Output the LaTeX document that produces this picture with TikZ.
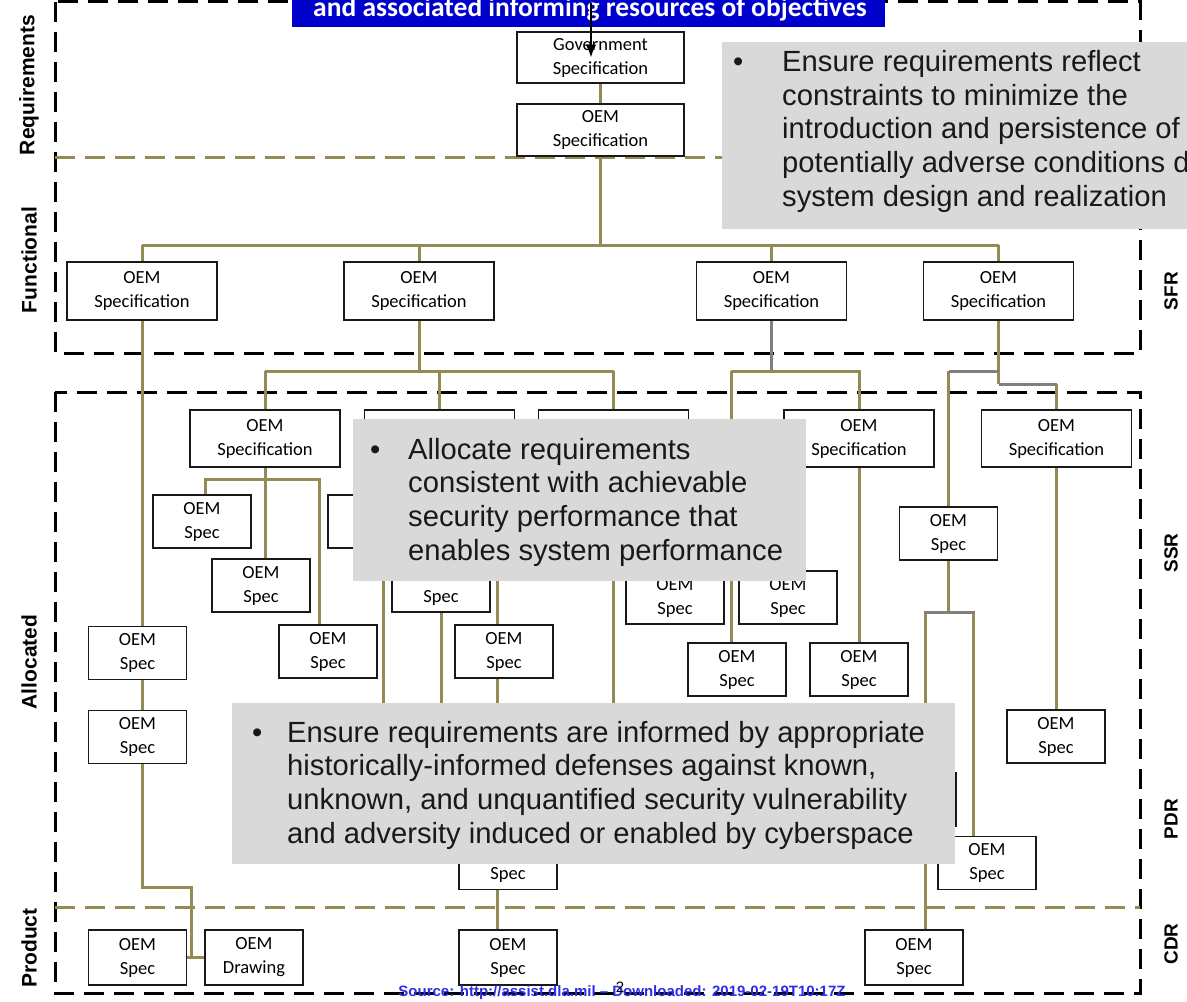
\documentclass[tikz,border=0pt]{standalone}
\usepackage{fontspec}
\setmainfont{Liberation Sans}
\newfontfamily\calfont{Carlito}
\usetikzlibrary{arrows.meta}
\definecolor{linkolive}{RGB}{148,138,84}
\definecolor{linkgrey}{RGB}{128,128,128}
\definecolor{notegrey}{RGB}{217,217,217}
\definecolor{bannerblue}{RGB}{0,0,204}
\definecolor{srcblue}{RGB}{45,45,235}
\begin{document}
\begin{tikzpicture}[x=1pt,y=-1pt,
  specbox/.style={draw=black!90, line width=1.6pt, fill=white, inner sep=0pt, align=center,
    font=\calfont\fontsize{18.5}{24}\selectfont, text=black},
  bigbox/.style={specbox, minimum width=150, minimum height=57},
  smallbox/.style={specbox, minimum width=98, minimum height=53},
  link/.style={linkolive, line width=3pt},
  glink/.style={linkgrey, line width=3pt},
  zoneframe/.style={black, line width=3pt, dash pattern=on 20pt off 10pt},
  levelline/.style={linkolive, line width=3pt, dash pattern=on 20pt off 10pt},
  note/.style={fill=notegrey, inner sep=0pt, anchor=north west},
  notetext/.style={inner sep=0pt, anchor=base west, font=\fontsize{29.2}{33.7}\selectfont, text=black!90},
  sidelabel/.style={rotate=90, inner sep=0pt, font=\bfseries\fontsize{21}{21}\selectfont},
  gatelabel/.style={rotate=90, inner sep=0pt, font=\bfseries\fontsize{19}{19}\selectfont}
]
\clip (0,0) rectangle (1187,1002);
\fill[white] (0,0) rectangle (1187,1002);

% zone frames and level boundaries
\draw[zoneframe] (55,1.5) rectangle (1140,353);
\draw[zoneframe] (55,392) rectangle (1140,993);
\draw[levelline] (55,157) -- (1140,157);
\draw[levelline] (55,907) -- (1140,907);

% requirements level
\node[specbox, minimum width=167, minimum height=51] (gov) at (600.5,57.5) {Government\\Specification};
\node[specbox, minimum width=167, minimum height=52] (req) at (600.5,130) {OEM\\Specification};

% functional level
\node[bigbox, minimum height=58] (f1) at (142,291) {OEM\\Specification};
\node[bigbox, minimum height=58] (f2) at (419,291) {OEM\\Specification};
\node[bigbox, minimum height=58] (f3) at (771.5,291) {OEM\\Specification};
\node[bigbox, minimum height=58] (f4) at (998.5,291) {OEM\\Specification};

% allocated level
\node[bigbox] (a1) at (265,438.5) {OEM\\Specification};
\node[bigbox] (a2) at (439.5,438.5) {OEM\\Specification};
\node[bigbox] (a3) at (613.5,438.5) {OEM\\Specification};
\node[bigbox] (a5) at (859,438.5) {OEM\\Specification};
\node[bigbox] (a6) at (1056.5,438.5) {OEM\\Specification};

\node[smallbox] (s6) at (202,521.5) {OEM\\Spec};
\node[smallbox] (s7) at (261,585.5) {OEM\\Spec};
\node[smallbox] (s8) at (328,651.5) {OEM\\Spec};
\node[smallbox] (s9) at (377,521.5) {OEM\\Spec};
\node[smallbox] (s10) at (441,585.5) {OEM\\Spec};
\node[smallbox] (s11) at (504,651.5) {OEM\\Spec};
\node[smallbox] (s12) at (675,597.5) {OEM\\Spec};
\node[smallbox] (s13) at (788,597.5) {OEM\\Spec};
\node[smallbox] (s14) at (737,669.5) {OEM\\Spec};
\node[smallbox] (s15) at (859,669.5) {OEM\\Spec};
\node[smallbox] (s16) at (948.5,533.5) {OEM\\Spec};
\node[smallbox] (s17) at (1056,736.5) {OEM\\Spec};
\node[smallbox] (s18) at (137.5,653) {OEM\\Spec};
\node[smallbox] (s19) at (137.5,737) {OEM\\Spec};
\node[smallbox] (s20) at (987,863) {OEM\\Spec};
\node[smallbox] (s21) at (907,799.5) {OEM\\Spec};
\node[smallbox] (s22) at (508,863) {OEM\\Spec};

% product level
\node[smallbox, minimum height=55] (p1) at (137.5,957.5) {OEM\\Spec};
\node[smallbox, minimum height=55] (p2) at (254,957.5) {OEM\\Drawing};
\node[smallbox, minimum height=55] (p3) at (508,957.5) {OEM\\Spec};
\node[smallbox, minimum height=55] (p4) at (914,957.5) {OEM\\Spec};

% bus heights and branch points
\coordinate (busF) at (0,245);
\coordinate (busA) at (0,371);
\coordinate (busR) at (0,384);
\coordinate (split) at (0,612);
\coordinate (jog) at (191,887);
\coordinate (f3left) at (731,371);
\coordinate (a1L) at (205,479);
\coordinate (a1R) at (319,479);
\coordinate (a2tap) at (383,479);
\coordinate (c497) at (497,560);
\coordinate (splitL) at (925,612);
\coordinate (splitR) at (973,612);

% requirements -> functional
\draw[link] (gov.south) -- (req.north);
\draw[link] (req.south) -- (req.south |- busF);
\draw[link] (f1.north |- busF) -- (f4.north |- busF);
\foreach \n in {f1,f2,f3,f4} \draw[link] (\n.north |- busF) -- (\n.north);

% left branch down to the product
\draw[link] (f1.south) -- (f1.south |- s18.north);
\draw[link] (f1.south |- s18.south) -- (f1.south |- s19.north);
\draw[link] (f1.south |- s19.south) |- (jog) -- (jog |- p1.east);
\draw[link] (p1.east) -- (p2.west);

% second functional branch
\draw[link] (f2.south) -- (f2.south |- busA);
\draw[link] (a1.north |- busA) -- (a3.north |- busA);
\foreach \n in {a1,a2,a3} \draw[link] (\n.north |- busA) -- (\n.north);
\draw[link] (a1.south) -- (a1.south |- s7.north);
\draw[link] (a1L |- s6.north) -- (a1L) -- (a1R) -- (a1R |- s8.north);
\draw[link] (a2tap) -- ++(0,280);
\draw[link] (s10.south) -- ++(0,150);
\draw[link] (c497) -- (c497 |- s11.north);
\draw[link] (c497 |- s11.south) -- (c497 |- s22.north);
\draw[link] (c497 |- s22.south) -- (c497 |- p3.north);
\draw[link] (a3.south) -- ++(0,300);

% third functional branch
\draw[glink] (f3.south) -- (f3.south |- busA);
\draw[link] (f3left) -- (a5.north |- busA) -- (a5.north);
\draw[link] (f3left) -- (f3left |- s14.north);
\draw[link] (a5.south) -- (a5.south |- s15.north);

% fourth functional branch
\draw[link] (f4.south) -- (f4.south |- busR);
\draw[link] (s16.north |- busA) -- (s16.north);
\draw[glink] (f4.south |- busA) -- (s16.north |- busA);
\draw[link] (a6.north |- busR) -- (a6.north);
\draw[glink] (f4.south |- busR) -- (a6.north |- busR);
\draw[link] (a6.south) -- (a6.south |- s17.north);
\draw[link] (s16.south) -- (s16.south |- split);
\draw[link] (splitL) -- (splitL |- p4.north);
\draw[link] (splitR) -- (splitR |- s20.north);
\draw[glink] ([xshift=-1.5pt]splitL) -- ([xshift=1.5pt]splitR);

% heading banner
\node[fill=bannerblue, minimum width=593, minimum height=70, anchor=south west, inner sep=0pt] (banner) at (292,27) {};
\node[anchor=base, inner sep=0pt, text=white, font=\calfont\bfseries\fontsize{27.5}{27.5}\selectfont] (bannertext) at (590,16) {and associated informing resources of objectives};
\coordinate (arrowtail) at (591,3);
\draw[black, line width=2.4pt, -{Latex[length=13pt,width=11pt]}] (arrowtail) -- (arrowtail |- gov.center);

% guidance notes
\node[note, minimum width=480, minimum height=187] (noteA) at (722,42) {};
\node[notetext] (bulletA) at (733,71.5) {•};
\node[notetext] (textA) at (782,71.5) {\parbox[t]{600pt}{Ensure requirements reflect\\constraints to minimize the\\introduction and persistence of\\potentially adverse conditions during\\system design and realization}};

\node[note, minimum width=453, minimum height=162] (noteB) at (353,419) {};
\node[notetext] (bulletB) at (370,459) {•};
\node[notetext] (textB) at (408,459) {\parbox[t]{420pt}{Allocate requirements\\consistent with achievable\\security performance that\\enables system performance}};

\node[note, minimum width=723, minimum height=161] (noteC) at (232,703) {};
\node[notetext] (bulletC) at (252,742) {•};
\node[notetext] (textC) at (287,742) {\parbox[t]{700pt}{Ensure requirements are informed by appropriate\\historically-informed defenses against known,\\unknown, and unquantified security vulnerability\\and adversity induced or enabled by cyberspace}};

% level and review labels
\node[sidelabel] (lblReq) at (29,85) {Requirements};
\node[sidelabel] (lblFun) at (29,260) {Functional};
\node[sidelabel] (lblAll) at (29,662) {Allocated};
\node[sidelabel] (lblPro) at (29,948) {Product};
\node[gatelabel] (lblSFR) at (1171,291) {SFR};
\node[gatelabel] (lblSSR) at (1171,553) {SSR};
\node[gatelabel] (lblPDR) at (1171,819) {PDR};
\node[gatelabel] (lblCDR) at (1171,944) {CDR};

% footer
\node[inner sep=0pt, text=srcblue, font=\bfseries\fontsize{15}{15}\selectfont] (source) at (622,993) {Source: http://assist.dla.mil -- Downloaded: 2019-02-19T10:17Z};
\node[inner sep=0pt, font=\fontsize{15}{15}\selectfont] (pagenum) at (620,987) {2};
\end{tikzpicture}
\end{document}
